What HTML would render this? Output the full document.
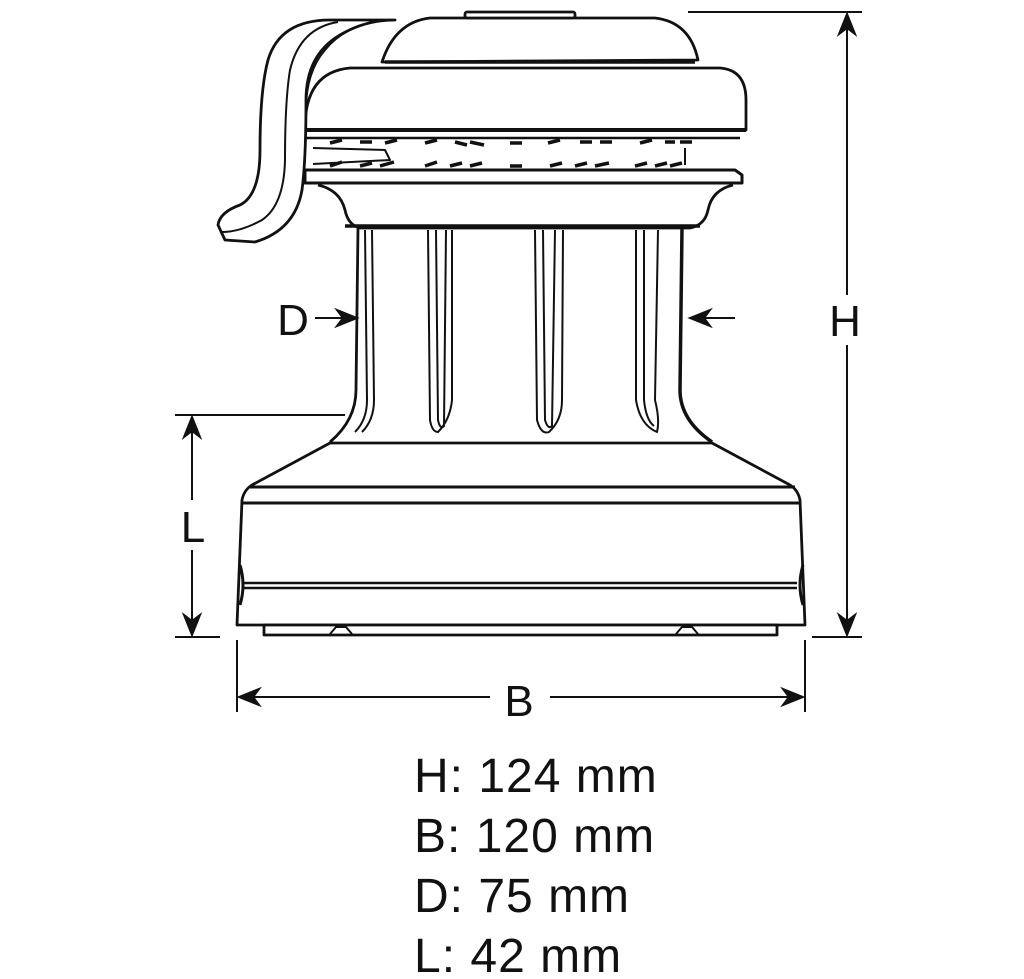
<!DOCTYPE html>
<html><head><meta charset="utf-8"><style>
html,body{margin:0;padding:0;background:#fff;}
svg{display:block}
text{font-family:"Liberation Sans",sans-serif;fill:#111}
</style></head><body>
<svg width="1024" height="979" viewBox="0 0 1024 979" xmlns="http://www.w3.org/2000/svg">
<g fill="none" stroke="#111" stroke-width="2.8" stroke-linejoin="round">
<!-- top cap -->
<path d="M382,62 Q395,22 430,18 L655,18 Q690,22 698,60 Z" fill="#fff"/>
<rect x="465" y="12" width="110" height="6" rx="2" fill="#fff"/>
<line x1="385" y1="62" x2="695" y2="62" stroke-width="3.5"/>
<!-- upper drum -->
<path d="M305,128 Q305,72 350,68 L720,68 Q746,70 746,100 L746,130 L305,130 Z" fill="#fff"/>
<line x1="305" y1="130" x2="746" y2="130" stroke-width="4"/>
<line x1="305" y1="138" x2="740" y2="138" stroke-width="2.5"/>
<!-- gear teeth -->
<g stroke-width="3.5">
<path d="M330,143 l12,-3 M360,142 l12,0 M385,143 l12,-3 M425,143 l12,-3 M455,142 l12,3 M470,142 l14,3 M510,143 l12,0 M548,143 l12,-3 M580,142 l12,0 M600,142 l12,0 M640,143 l12,-3 M665,142 l10,0 M680,142 l12,0"/>
<path d="M330,166 l12,-4 M360,166 l12,-3 M380,166 l14,-4 M425,166 l12,-4 M450,166 l12,-3 M470,166 l12,-3 M510,166 l12,0 M550,166 l12,-3 M575,166 l12,-3 M595,166 l14,-3 M635,166 l12,-3 M655,166 l12,-3 M670,166 l12,-3"/>
</g>
<path d="M313,148 L385,150 L390,160 L313,164" stroke-width="2"/>
<line x1="685" y1="148" x2="685" y2="165" stroke-width="2"/>
<!-- lower flange -->
<path d="M305,170 L735,170 L742,175 L742,183 L305,183 Z" fill="#fff" stroke-width="3"/>
<!-- fillet -->
<path d="M318,185 Q340,190 345,210 Q348,225 360,228 L690,228 Q705,225 708,210 Q712,190 733,185" />
<line x1="345" y1="226" x2="700" y2="226" stroke-width="3.5"/>
<!-- barrel -->
<path d="M358,228 L356,390 Q356,420 330,442" />
<path d="M682,228 L680,390 Q680,420 712,442" stroke-width="3.5"/>
<path d="M365,230 L367,400 Q367,420 355,432 M372,230 L374,400 Q374,420 362,432" stroke-width="2"/>
<path d="M428,230 L430,420 Q432,432 438,432 Q450,420 452,400 L452,230 M436,230 L438,420 Q440,430 444,426 L446,230" stroke-width="2"/>
<path d="M535,230 L537,420 Q541,435 549,432 Q562,420 562,400 L563,230 M543,230 L545,420 Q548,430 552,426 L555,230" stroke-width="2"/>
<path d="M636,230 L636,400 Q640,425 657,432 Q660,420 655,400 L658,230 M644,230 L644,400 Q646,420 654,426" stroke-width="2"/>
<!-- body -->
<path d="M330,443 L712,443 L790,485 Q798,490 800,500 L805,625 L237,625 L242,500 Q244,490 252,485 Z" fill="#fff"/>
<line x1="250" y1="487" x2="795" y2="487" stroke-width="3"/>
<line x1="241" y1="503" x2="801" y2="503" stroke-width="3"/>
<line x1="244" y1="583" x2="797" y2="583" stroke-width="2.5"/>
<line x1="244" y1="588" x2="797" y2="588" stroke-width="2.5"/>
<path d="M240,565 Q246,585 240,605 M803,565 Q797,585 803,605" stroke-width="3"/>
<rect x="264" y="625" width="513" height="10" fill="#fff"/>
<path d="M330,634 L336,627 L346,627 L352,634 M676,634 L682,627 L692,627 L698,634" stroke-width="2"/>
<!-- handle -->
<path d="M330,20 Q280,20 268,60 Q260,90 260,150 Q260,195 240,205 Q220,212 218,225 L225,240 L255,242 Q295,230 302,190 Q306,160 306,100 Q306,55 340,35 Q365,20 395,20 Z" fill="#fff"/>
<path d="M338,22 Q300,28 290,70 Q285,100 285,160 Q284,205 262,220 Q240,232 222,232" stroke-width="2"/>
<path d="M395,20 L385,20 Q345,25 325,50 Q306,72 306,110" stroke-width="2"/>
</g>
<!-- dimension lines -->
<g stroke="#111" stroke-width="2" fill="#111">
<line x1="688" y1="12" x2="862" y2="12"/>
<line x1="812" y1="637" x2="862" y2="637"/>
<line x1="847" y1="14" x2="847" y2="635"/>
<path d="M847,14 l-8,20 l8,-6 l8,6 Z"/>
<path d="M847,635 l-8,-20 l8,6 l8,-6 Z"/>
<line x1="175" y1="415" x2="345" y2="415"/>
<line x1="175" y1="637" x2="220" y2="637"/>
<line x1="192" y1="417" x2="192" y2="635"/>
<path d="M192,417 l-8,20 l8,-6 l8,6 Z"/>
<path d="M192,635 l-8,-20 l8,6 l8,-6 Z"/>
<line x1="237" y1="640" x2="237" y2="712"/>
<line x1="805" y1="640" x2="805" y2="712"/>
<line x1="239" y1="697" x2="803" y2="697"/>
<path d="M239,697 l20,-8 l-6,8 l6,8 Z"/>
<path d="M803,697 l-20,-8 l6,8 l-6,8 Z"/>
<line x1="315" y1="318" x2="355" y2="318"/>
<path d="M357,318 l-20,-8 l6,8 l-6,8 Z"/>
<line x1="692" y1="318" x2="735" y2="318"/>
<path d="M690,318 l20,-8 l-6,8 l6,8 Z"/>
</g>
<rect x="822" y="295" width="50" height="50" fill="#fff"/>
<rect x="170" y="500" width="45" height="50" fill="#fff"/>
<rect x="490" y="675" width="60" height="46" fill="#fff"/>
<g font-size="44">
<text x="845" y="336" text-anchor="middle">H</text>
<text x="293" y="335" text-anchor="middle">D</text>
<text x="193" y="542" text-anchor="middle">L</text>
<text x="519" y="716" text-anchor="middle">B</text>
</g>
<g font-size="48" letter-spacing="1">
<text x="414" y="792">H: 124 mm</text>
<text x="414" y="852">B: 120 mm</text>
<text x="414" y="912">D: 75 mm</text>
<text x="414" y="972">L: 42 mm</text>
</g>
</svg>
</body></html>
